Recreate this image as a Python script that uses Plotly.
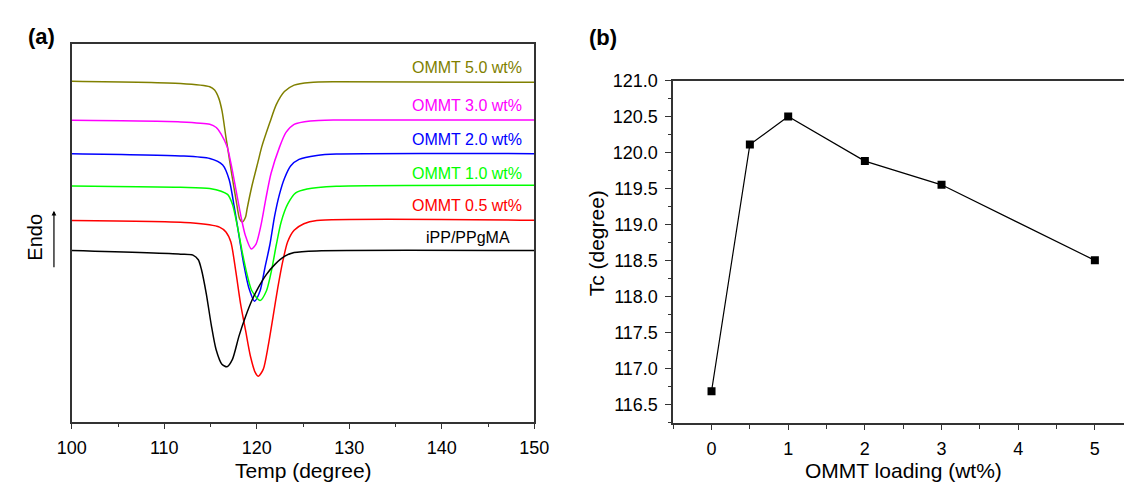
import plotly.graph_objects as go

# ---------------- (a) DSC cooling curves (heat flow, a.u., endo up) ----------------
temp_ommt50 = [100.00, 111.76, 114.92, 115.44, 115.89, 116.25, 116.67, 116.84, 117.28, 117.81,
               118.15, 118.44, 118.78, 118.95, 119.47, 120.18, 120.53, 121.41, 122.11, 122.99,
               124.04, 125.79, 128.60, 150.00]
flow_ommt50 = [9.006, 8.947, 8.861, 8.773, 8.559, 8.214, 7.523, 7.264, 6.573, 5.797,
               5.367, 5.285, 5.409, 5.626, 6.229, 6.919, 7.264, 7.912, 8.385, 8.732,
               8.903, 8.973, 8.991, 8.980]

temp_ommt30 = [100.00, 111.76, 114.92, 115.62, 116.15, 116.81, 117.28, 117.81, 118.34, 118.76,
               119.41, 119.92, 120.45, 120.97, 121.54, 122.46, 123.16, 124.04, 125.79, 128.60,
               150.00]
flow_ommt30 = [7.971, 7.930, 7.867, 7.782, 7.609, 7.264, 6.747, 6.056, 5.375, 4.935,
               4.573, 4.702, 5.194, 5.885, 6.566, 7.264, 7.653, 7.867, 7.956, 7.981,
               7.981]

temp_ommt20 = [100.00, 111.76, 114.92, 116.32, 117.02, 117.55, 118.07, 118.60, 119.13, 119.76,
               120.36, 120.88, 121.41, 121.94, 122.46, 122.99, 123.68, 124.57, 126.49, 128.60,
               150.00]
flow_ommt20 = [7.091, 7.032, 6.962, 6.791, 6.403, 5.712, 4.935, 4.159, 3.556, 3.194,
               3.468, 4.074, 4.677, 5.453, 6.022, 6.436, 6.773, 6.941, 7.045, 7.083,
               7.091]

temp_ommt10 = [100.00, 111.76, 114.92, 116.84, 117.37, 117.89, 118.42, 118.95, 119.47, 120.36,
               121.05, 121.58, 122.11, 122.63, 123.34, 124.21, 125.44, 128.60, 150.00]
flow_ommt10 = [6.237, 6.203, 6.170, 6.014, 5.756, 5.194, 4.503, 3.900, 3.468, 3.209,
               3.468, 3.986, 4.677, 5.280, 5.756, 6.056, 6.159, 6.230, 6.257]

temp_ommt05 = [100.00, 112.81, 115.97, 116.67, 117.20, 117.73, 118.25, 118.78, 119.31, 119.83,
               120.18, 120.71, 121.23, 121.76, 122.28, 122.81, 123.34, 124.04, 125.09, 126.49,
               150.00]
flow_ommt05 = [5.324, 5.264, 5.150, 5.021, 4.754, 3.986, 3.124, 2.433, 1.744, 1.312,
               1.209, 1.398, 2.003, 2.780, 3.556, 4.244, 4.762, 5.065, 5.238, 5.324,
               5.331]

temp_ipp = [100.00, 111.76, 113.10, 113.68, 114.02, 114.55, 115.08, 115.60, 116.23, 116.78,
            117.37, 118.07, 118.78, 119.47, 120.18, 121.05, 121.94, 122.99, 124.04, 126.49,
            150.00]
flow_ipp = [4.529, 4.436, 4.410, 4.288, 4.030, 3.382, 2.567, 1.915, 1.527, 1.460,
            1.656, 2.262, 2.780, 3.209, 3.556, 3.900, 4.159, 4.374, 4.477, 4.521,
            4.529]

curve_names = ["OMMT 5.0 wt%", "OMMT 3.0 wt%", "OMMT 2.0 wt%",
               "OMMT 1.0 wt%", "OMMT 0.5 wt%", "iPP/PPgMA"]
curve_colors = ["#808000", "#FF00FF", "#0000FF", "#00FF00", "#FF0000", "#000000"]
curve_temps = [temp_ommt50, temp_ommt30, temp_ommt20, temp_ommt10, temp_ommt05, temp_ipp]
curve_flows = [flow_ommt50, flow_ommt30, flow_ommt20, flow_ommt10, flow_ommt05, flow_ipp]
label_levels = [9.379, 8.359, 7.453, 6.558, 5.730, 4.876]

# ---------------- (b) crystallization temperature vs. clay loading ----------------
ommt_loading = [0, 0.5, 1, 2, 3, 5]
tc_values = [116.68, 120.11, 120.50, 119.88, 119.55, 118.50]

W, H = 1139, 483
FONT = "Liberation Sans, Arial, sans-serif"
AXC = "#333333"

fig = go.Figure()

for t, f, c, n in zip(curve_temps, curve_flows, curve_colors, curve_names):
    fig.add_trace(go.Scatter(x=t, y=f, mode="lines", name=n,
                             line=dict(color=c, width=1.5, shape="spline", smoothing=0.7),
                             xaxis="x", yaxis="y", showlegend=False, hoverinfo="skip"))

fig.add_trace(go.Scatter(x=ommt_loading, y=tc_values, mode="lines+markers",
                         line=dict(color="black", width=1.2),
                         marker=dict(symbol="square", size=8, color="black"),
                         xaxis="x2", yaxis="y2", showlegend=False))

annotations = []
# curve labels
for n, c, lv in zip(curve_names, curve_colors, label_levels):
    if n == "iPP/PPgMA":
        annotations.append(dict(x=142.81, y=lv, xref="x", yref="y", text=n, showarrow=False,
                                xanchor="center", yanchor="middle",
                                font=dict(family=FONT, size=16, color=c)))
    else:
        annotations.append(dict(x=148.92, y=lv, xref="x", yref="y", text=n, showarrow=False,
                                xanchor="right", yanchor="middle",
                                font=dict(family=FONT, size=16, color=c)))

def px(xp):
    return xp / W

def py(yp):
    return (H - yp) / H

# panel letters
annotations.append(dict(x=px(27), y=py(27), xref="paper", yref="paper", text="<b>(a)</b>",
                        showarrow=False, xanchor="center", yanchor="middle",
                        font=dict(family=FONT, size=22, color="black")))
annotations.append(dict(x=px(604), y=py(28), xref="paper", yref="paper", text="<b>(b)</b>",
                        showarrow=False, xanchor="center", yanchor="middle",
                        font=dict(family=FONT, size=22, color="black")))
# axis titles (sitting on the bottom edge of the page)
annotations.append(dict(x=px(295.8), y=0, xref="paper", yref="paper", text="Temp (degree)",
                        showarrow=False, xanchor="center", yanchor="bottom", borderpad=0,
                        font=dict(family=FONT, size=21, color="black")))
annotations.append(dict(x=px(912.5), y=0, xref="paper", yref="paper", text="OMMT loading (wt%)",
                        showarrow=False, xanchor="center", yanchor="bottom", borderpad=0,
                        font=dict(family=FONT, size=21, color="black")))
annotations.append(dict(x=px(597), y=py(238), xref="paper", yref="paper", text="Tc (degree)",
                        showarrow=False, xanchor="center", yanchor="middle", textangle=-90,
                        font=dict(family=FONT, size=21, color="black")))
annotations.append(dict(x=px(21), y=py(232), xref="paper", yref="paper", text="Endo",
                        showarrow=False, xanchor="center", yanchor="middle", textangle=-90,
                        font=dict(family=FONT, size=20, color="black")))
# endo arrow
annotations.append(dict(x=px(40), y=py(205), xref="paper", yref="paper", text="",
                        showarrow=True, ax=0, ay=58, axref="pixel", ayref="pixel",
                        arrowhead=2, arrowsize=0.8, arrowwidth=1.2, arrowcolor="black"))

fig.update_layout(
    width=W, height=H,
    margin=dict(l=0, r=0, t=0, b=0),
    paper_bgcolor="white", plot_bgcolor="white",
    font=dict(family=FONT, size=18, color="black"),
    annotations=annotations,
    xaxis=dict(domain=[58.3 / W, 533.3 / W], range=[100, 150], anchor="y",
               tickvals=[100, 110, 120, 130, 140, 150],
               ticks="outside", ticklen=5, tickwidth=1.2, tickcolor=AXC,
               minor=dict(ticks="outside", ticklen=3, tickwidth=1.2, tickcolor=AXC, dtick=5),
               showline=True, linecolor=AXC, linewidth=1.5, mirror=True,
               showgrid=False, zeroline=False, ticklabelstandoff=4,
               tickfont=dict(family=FONT, size=18, color="black")),
    yaxis=dict(domain=[py(420.7), py(34.3)], range=[0, 10], anchor="x",
               showticklabels=False, ticks="",
               showline=True, linecolor=AXC, linewidth=1.5, mirror=True,
               showgrid=False, zeroline=False),
    xaxis2=dict(domain=[676 / W, 1.0], range=[-0.5, 5.38], anchor="y2",
                tickvals=[0, 1, 2, 3, 4, 5],
                ticks="outside", ticklen=5, tickwidth=1.2, tickcolor=AXC,
                minor=dict(ticks="outside", ticklen=4, tickwidth=1.2, tickcolor=AXC,
                           tickvals=[-0.5, 0.5, 1.5, 2.5, 3.5, 4.5]),
                showline=True, linecolor=AXC, linewidth=1.5, mirror=True,
                showgrid=False, zeroline=False, ticklabelstandoff=4,
                tickfont=dict(family=FONT, size=18, color="black")),
    yaxis2=dict(domain=[py(421.7), py(72)], range=[116.24, 121.0], anchor="x2",
                tick0=116.5, dtick=0.5, tickformat=".1f",
                ticks="outside", ticklen=6, tickwidth=1.2, tickcolor=AXC,
                minor=dict(ticks="outside", ticklen=3, tickwidth=1.2, tickcolor=AXC, dtick=0.25),
                showline=True, linecolor=AXC, linewidth=1.5, mirror=False,
                showgrid=False, zeroline=False, ticklabelstandoff=4,
                tickfont=dict(family=FONT, size=18, color="black")),
)

fig.write_html("out.html")
